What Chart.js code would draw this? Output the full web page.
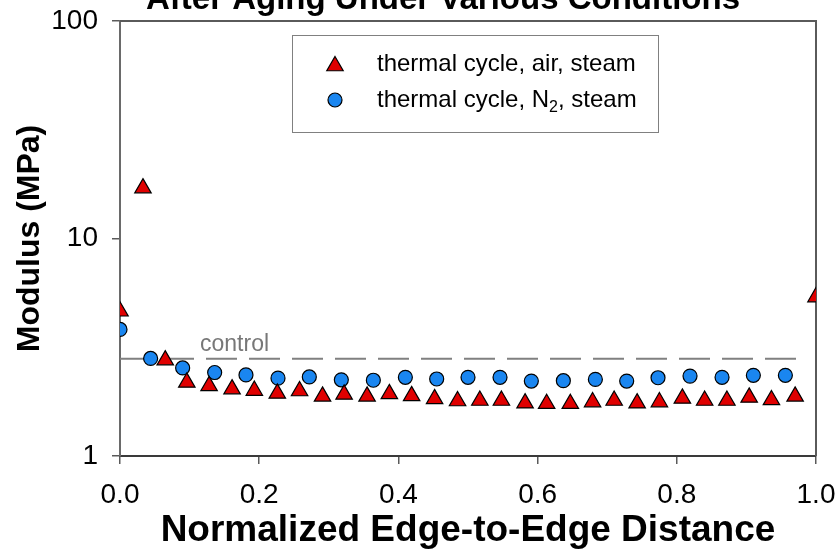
<!DOCTYPE html>
<html>
<head>
<meta charset="utf-8">
<title>Modulus after aging</title>
<script src="https://cdn.jsdelivr.net/npm/chart.js@4/dist/chart.umd.min.js"></script>
<style>
  html, body { margin: 0; padding: 0; background: #ffffff; }
  #wrap { width: 838px; height: 549px; position: relative; overflow: hidden; }
</style>
</head>
<body>
<div id="wrap"><canvas id="chart" width="838" height="549"></canvas></div>
<script>
// Normalized edge-to-edge position and modulus (MPa), thermal cycle in air with steam
const airDistance = [0, 0.033, 0.065, 0.096, 0.128, 0.161, 0.193, 0.226, 0.258, 0.291, 0.322, 0.355,
  0.387, 0.419, 0.452, 0.485, 0.517, 0.548, 0.582, 0.613, 0.647, 0.679, 0.710, 0.743,
  0.775, 0.808, 0.840, 0.872, 0.904, 0.936, 0.970, 1.0];
const airModulus = [4.63, 17.05, 2.76, 2.18, 2.10, 2.03, 2.00, 1.94, 1.99, 1.88, 1.92, 1.88,
  1.93, 1.89, 1.83, 1.79, 1.80, 1.80, 1.75, 1.74, 1.74, 1.77, 1.80, 1.75,
  1.77, 1.84, 1.80, 1.80, 1.86, 1.81, 1.88, 5.38];

// Thermal cycle in N2 with steam
const n2Distance = [0, 0.044, 0.090, 0.136, 0.181, 0.227, 0.272, 0.318, 0.364, 0.410, 0.455,
  0.500, 0.546, 0.591, 0.637, 0.683, 0.728, 0.773, 0.819, 0.865, 0.910, 0.956];
const n2Modulus = [3.82, 2.81, 2.54, 2.42, 2.36, 2.28, 2.31, 2.24, 2.23, 2.30, 2.26,
  2.30, 2.30, 2.21, 2.22, 2.25, 2.21, 2.29, 2.33, 2.30, 2.35, 2.35];

// Unaged control modulus, drawn as a reference line
const controlModulus = 2.8;
const controlSpan = [0, 0.983];

const seriesNames = ['thermal cycle, air, steam', 'thermal cycle, N\u2082, steam'];
const modulusTicks = [1, 10, 100];
const distanceStep = 0.2;

const RED = '#e00000';
const BLUE = '#1a86f0';
const AXIS = '#5a5a5a';
const FONT = "'Liberation Sans', Arial, Helvetica, sans-serif";

const toPoints = (xs, ys) => xs.map((x, i) => ({ x: x, y: ys[i] }));

// Plot frame (top and right edges), title, control label and boxed legend
const decorations = {
  id: 'decorations',
  beforeDatasetsDraw(chart) {
    const { ctx, chartArea: a } = chart;
    ctx.save();
    ctx.strokeStyle = AXIS;
    ctx.lineWidth = 2;
    ctx.beginPath();
    ctx.moveTo(a.left, a.top);
    ctx.lineTo(a.right, a.top);
    ctx.lineTo(a.right, a.bottom);
    ctx.stroke();
    ctx.restore();
  },
  afterDraw(chart) {
    const { ctx, scales } = chart;
    ctx.save();
    // title
    ctx.fillStyle = '#000';
    ctx.font = "bold 33px " + FONT;
    ctx.textAlign = 'center';
    ctx.textBaseline = 'alphabetic';
    ctx.fillText('After Aging Under Various Conditions', 443, 9);

    // control label
    ctx.fillStyle = '#777';
    ctx.font = "23px " + FONT;
    ctx.textAlign = 'left';
    ctx.fillText('control', scales.x.getPixelForValue(0.115), scales.y.getPixelForValue(controlModulus) - 8);

    // legend box
    const bx = 292, by = 35, bw = 366, bh = 97;
    ctx.strokeStyle = '#808080';
    ctx.lineWidth = 1;
    ctx.strokeRect(bx + 0.5, by + 0.5, bw, bh);

    const sets = chart.data.datasets;
    const rows = [by + 29, by + 65];
    ctx.font = "24px " + FONT;
    ctx.textBaseline = 'middle';
    for (let i = 0; i < 2; i++) {
      const ds = sets[i];
      ctx.fillStyle = ds.backgroundColor;
      ctx.strokeStyle = ds.borderColor;
      ctx.lineWidth = ds.borderWidth;
      Chart.helpers.drawPoint(ctx, {
        pointStyle: ds.pointStyle,
        radius: ds.pointRadius,
        borderWidth: ds.borderWidth,
        rotation: 0
      }, 335, rows[i] + (i === 0 ? 2 : 0));
      ctx.fillStyle = '#000';
      if (i === 0) {
        ctx.fillText(seriesNames[0], 377, rows[i]);
      } else {
        const pre = 'thermal cycle, N';
        ctx.fillText(pre, 377, rows[i]);
        let x = 377 + ctx.measureText(pre).width;
        ctx.font = "16px " + FONT;
        ctx.fillText('2', x, rows[i] + 8);
        x += ctx.measureText('2').width;
        ctx.font = "24px " + FONT;
        ctx.fillText(', steam', x, rows[i]);
      }
    }
    ctx.restore();
  }
};

new Chart(document.getElementById('chart'), {
  type: 'scatter',
  data: {
    datasets: [
      {
        label: seriesNames[0],
        data: toPoints(airDistance, airModulus),
        pointStyle: 'triangle',
        pointRadius: 9.5,
        pointHoverRadius: 9.5,
        backgroundColor: RED,
        borderColor: '#000',
        borderWidth: 1.2
      },
      {
        label: seriesNames[1],
        data: toPoints(n2Distance, n2Modulus),
        pointStyle: 'circle',
        pointRadius: 7,
        pointHoverRadius: 7,
        backgroundColor: BLUE,
        borderColor: '#000',
        borderWidth: 1.2
      },
      {
        type: 'line',
        label: 'control',
        data: controlSpan.map(x => ({ x: x, y: controlModulus })),
        borderColor: '#808080',
        borderWidth: 2,
        borderDash: [31, 12],
        pointRadius: 0,
        fill: false
      }
    ]
  },
  options: {
    responsive: false,
    animation: false,
    events: [],
    layout: { padding: { top: 21, right: 22, left: 0, bottom: 0 } },
    plugins: {
      legend: { display: false },
      tooltip: { enabled: false },
      title: { display: false }
    },
    scales: {
      x: {
        type: 'linear',
        min: 0,
        max: 1,
        afterFit(s) { s.height = 93; s.paddingLeft = 0; s.paddingRight = 0; },
        ticks: {
          stepSize: distanceStep,
          color: '#000',
          font: { family: FONT, size: 28 },
          padding: 14,
          maxRotation: 0,
          callback: v => Number(v).toFixed(1)
        },
        grid: { drawOnChartArea: false, drawTicks: true, tickLength: 8, color: AXIS, lineWidth: 1.5 },
        border: { display: true, color: '#3a3a3a', width: 2 },
        title: {
          display: true,
          text: 'Normalized Edge-to-Edge Distance',
          color: '#000',
          font: { family: FONT, size: 37, weight: 'bold', lineHeight: 1 },
          padding: { top: 0, bottom: 0 }
        }
      },
      y: {
        type: 'logarithmic',
        min: 1,
        max: 100,
        afterFit(s) { s.width = 120; s.paddingTop = 0; s.paddingBottom = 0; },
        afterBuildTicks(s) { s.ticks = modulusTicks.map(v => ({ value: v })); },
        ticks: {
          color: '#000',
          font: { family: FONT, size: 28 },
          padding: 14,
          callback: v => String(v)
        },
        grid: { drawOnChartArea: false, drawTicks: true, tickLength: 8, color: AXIS, lineWidth: 1.5 },
        border: { display: true, color: '#6a6a6a', width: 2 },
        title: {
          display: true,
          text: 'Modulus (MPa)',
          color: '#000',
          font: { family: FONT, size: 32, weight: 'bold', lineHeight: 1 },
          padding: { top: 14, bottom: 0 }
        }
      }
    }
  },
  plugins: [decorations]
});
</script>
</body>
</html>
